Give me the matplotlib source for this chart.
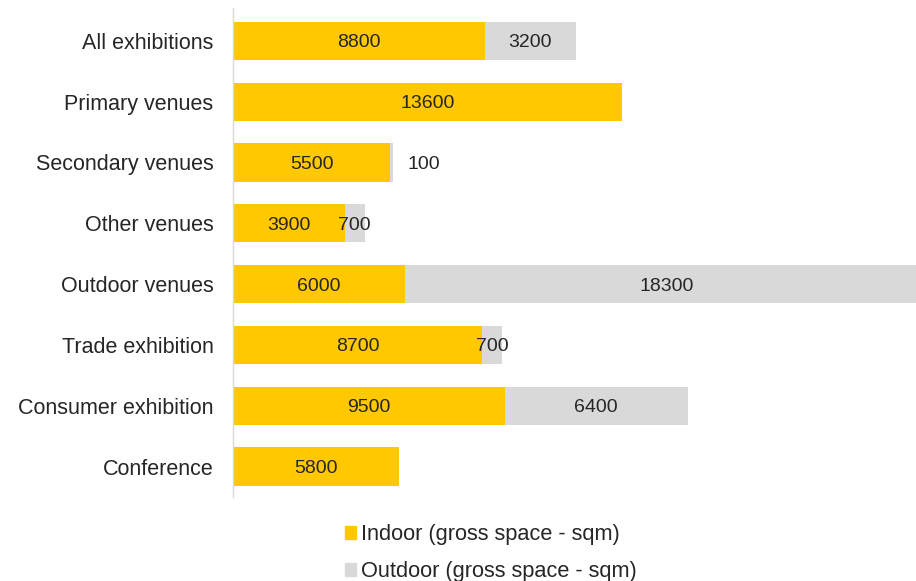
import matplotlib
matplotlib.use("Agg")
import matplotlib.pyplot as plt
from matplotlib.patches import Patch

# data
categories = ["All exhibitions", "Primary venues", "Secondary venues", "Other venues",
              "Outdoor venues", "Trade exhibition", "Consumer exhibition", "Conference"]
indoor = [8800, 13600, 5500, 3900, 6000, 8700, 9500, 5800]
outdoor = [3200, 0, 100, 700, 18300, 700, 6400, 0]
series_names = ["Indoor (gross space - sqm)", "Outdoor (gross space - sqm)"]

YELLOW = "#FFC800"
GREY = "#D9D9D9"
TXT = "#262626"

plt.rcParams["font.family"] = ["Liberation Sans", "DejaVu Sans"]

fig = plt.figure(figsize=(9.16, 5.81), dpi=100)
ax = fig.add_axes([233 / 916, 1 - 497 / 581, 1 - 233 / 916, (497 - 8) / 581])

pos = list(range(len(categories)))
ax.barh(pos, indoor, height=0.63, color=YELLOW, label=series_names[0])
ax.barh(pos, outdoor, left=indoor, height=0.63, color=GREY, label=series_names[1])

for i, (a, b) in enumerate(zip(indoor, outdoor)):
    if a > 0:
        ax.text(a / 2, i, str(a), ha="center", va="center_baseline", fontsize=14, color=TXT)
    if b > 0:
        if b < 300:
            # too thin to centre on, put it just after the bar
            ax.annotate(str(b), (a + b, i), xytext=(10, 0), textcoords="offset points",
                        ha="left", va="center_baseline", fontsize=14, color=TXT)
        else:
            ax.text(a + b / 2, i, str(b), ha="center", va="center_baseline", fontsize=14, color=TXT)

ax.set_xlim(0, 23880)
ax.set_ylim(7.5, -0.54)
ax.set_yticks(pos)
ax.set_yticklabels(categories, fontsize=15.5, color=TXT)
ax.tick_params(axis="y", length=0, pad=14)
ax.set_xticks([])
for s in ["top", "right", "bottom"]:
    ax.spines[s].set_visible(False)
ax.spines["left"].set_color(GREY)
ax.spines["left"].set_linewidth(1)

handles = [Patch(color=YELLOW), Patch(color=GREY)]
fig.legend(handles, series_names, loc="upper left", bbox_to_anchor=(345 / 916, 1 - 524 / 581),
           frameon=False, fontsize=15.7, handlelength=0.52, handleheight=0.52,
           handletextpad=0.2, labelspacing=0.75, borderpad=0, borderaxespad=0,
           labelcolor=TXT)

fig.savefig("out.png", dpi=100)
